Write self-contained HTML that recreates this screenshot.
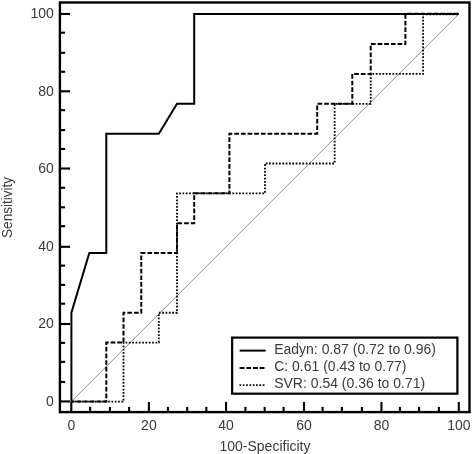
<!DOCTYPE html>
<html><head><meta charset="utf-8"><style>
html,body{margin:0;padding:0;background:#fff;}
body{width:472px;height:454px;overflow:hidden;}
svg{display:block;will-change:transform;}
text{font-family:"Liberation Sans", sans-serif;}
</style></head><body>
<svg width="472" height="454" viewBox="0 0 472 454">
<rect x="0" y="0" width="472" height="454" fill="#fff"/>
<line x1="71.3" y1="401.5" x2="458.8" y2="14.0" stroke="#808080" stroke-width="0.95"/>
<g fill="none" stroke="#000" stroke-linejoin="miter" stroke-linecap="butt">
<path d="M71.40,401.60 L123.50,401.60 L123.50,342.57 L158.80,342.57 L158.80,312.73 L177.00,312.73 L177.00,193.34 L265.00,193.34 L265.00,163.50 L334.65,163.50 L334.65,103.81 L370.70,103.81 L370.70,73.97 L423.10,73.97 L423.10,14.35 L458.80,14.35" stroke-width="1.8" stroke-dasharray="1.75 1.5759" stroke-dashoffset="3.25"/>
<path d="M71.40,401.60 L106.30,401.60 L106.30,342.57 L123.50,342.57 L123.50,312.73 L141.25,312.73 L141.25,253.03 L177.00,253.03 L177.00,223.19 L194.20,223.19 L194.20,193.34 L229.40,193.34 L229.40,133.65 L317.20,133.65 L317.20,103.81 L352.30,103.81 L352.30,73.97 L370.70,73.97 L370.70,44.12 L405.40,44.12 L405.40,13.75 L458.80,13.75" stroke-width="2" stroke-dasharray="4.7 1.9519" stroke-dashoffset="1.544"/>
<path d="M71.40,401.60 L71.40,312.73 L89.30,253.03 L106.30,253.03 L106.30,133.65 L158.80,133.65 L177.00,103.81 L194.20,103.81 L194.20,14.10 L458.80,14.10" stroke-width="2"/>
</g>
<g stroke="#000" stroke-width="2.1">
<line x1="59.90" y1="401.45" x2="70.10" y2="401.45"/><line x1="71.30" y1="412.10" x2="71.30" y2="401.90"/><line x1="59.90" y1="382.00" x2="65.10" y2="382.00"/><line x1="90.10" y1="412.10" x2="90.10" y2="406.90"/><line x1="59.90" y1="361.90" x2="65.10" y2="361.90"/><line x1="109.95" y1="412.10" x2="109.95" y2="406.90"/><line x1="59.90" y1="342.90" x2="65.10" y2="342.90"/><line x1="129.10" y1="412.10" x2="129.10" y2="406.90"/><line x1="59.90" y1="324.00" x2="70.10" y2="324.00"/><line x1="148.90" y1="412.10" x2="148.90" y2="401.90"/><line x1="59.90" y1="303.70" x2="65.10" y2="303.70"/><line x1="167.90" y1="412.10" x2="167.90" y2="406.90"/><line x1="59.90" y1="284.90" x2="65.10" y2="284.90"/><line x1="187.20" y1="412.10" x2="187.20" y2="406.90"/><line x1="59.90" y1="265.60" x2="65.10" y2="265.60"/><line x1="206.35" y1="412.10" x2="206.35" y2="406.90"/><line x1="59.90" y1="246.80" x2="70.10" y2="246.80"/><line x1="226.05" y1="412.10" x2="226.05" y2="401.90"/><line x1="59.90" y1="226.20" x2="65.10" y2="226.20"/><line x1="245.40" y1="412.10" x2="245.40" y2="406.90"/><line x1="59.90" y1="207.30" x2="65.10" y2="207.30"/><line x1="264.65" y1="412.10" x2="264.65" y2="406.90"/><line x1="59.90" y1="187.75" x2="65.10" y2="187.75"/><line x1="283.60" y1="412.10" x2="283.60" y2="406.90"/><line x1="59.90" y1="168.50" x2="70.10" y2="168.50"/><line x1="304.00" y1="412.10" x2="304.00" y2="401.90"/><line x1="59.90" y1="149.00" x2="65.10" y2="149.00"/><line x1="322.60" y1="412.10" x2="322.60" y2="406.90"/><line x1="59.90" y1="130.10" x2="65.10" y2="130.10"/><line x1="341.90" y1="412.10" x2="341.90" y2="406.90"/><line x1="59.90" y1="110.15" x2="65.10" y2="110.15"/><line x1="361.90" y1="412.10" x2="361.90" y2="406.90"/><line x1="59.90" y1="91.30" x2="70.10" y2="91.30"/><line x1="381.45" y1="412.10" x2="381.45" y2="401.90"/><line x1="59.90" y1="71.80" x2="65.10" y2="71.80"/><line x1="399.90" y1="412.10" x2="399.90" y2="406.90"/><line x1="59.90" y1="52.80" x2="65.10" y2="52.80"/><line x1="419.05" y1="412.10" x2="419.05" y2="406.90"/><line x1="59.90" y1="32.70" x2="65.10" y2="32.70"/><line x1="438.90" y1="412.10" x2="438.90" y2="406.90"/><line x1="59.90" y1="14.00" x2="70.10" y2="14.00"/><line x1="458.80" y1="412.10" x2="458.80" y2="401.90"/>
</g>
<rect x="59.9" y="2.5" width="409.60" height="409.60" fill="none" stroke="#000" stroke-width="2.4"/>
<g font-size="14" fill="#3a3a3a">
<text transform="translate(53.90 405.65) scale(1 1.05)" text-anchor="end">0</text><text transform="translate(71.30 429.60) scale(1 1.05)" text-anchor="middle">0</text><text transform="translate(53.90 328.20) scale(1 1.05)" text-anchor="end">20</text><text transform="translate(148.90 429.60) scale(1 1.05)" text-anchor="middle">20</text><text transform="translate(53.90 251.00) scale(1 1.05)" text-anchor="end">40</text><text transform="translate(226.05 429.60) scale(1 1.05)" text-anchor="middle">40</text><text transform="translate(53.90 172.70) scale(1 1.05)" text-anchor="end">60</text><text transform="translate(304.00 429.60) scale(1 1.05)" text-anchor="middle">60</text><text transform="translate(53.90 95.50) scale(1 1.05)" text-anchor="end">80</text><text transform="translate(381.45 429.60) scale(1 1.05)" text-anchor="middle">80</text><text transform="translate(53.90 18.20) scale(1 1.05)" text-anchor="end">100</text><text transform="translate(458.80 429.60) scale(1 1.05)" text-anchor="middle">100</text>
<text transform="translate(265.00 450.70) scale(1 1.05)" text-anchor="middle">100-Specificity</text>
<text transform="translate(11.70 207.40) rotate(-90) scale(0.97 1.05)" text-anchor="middle">Sensitivity</text>
</g>
<rect x="232.15" y="337.6" width="225.25" height="56.1" fill="#fff" stroke="#000" stroke-width="2.2"/>
<g stroke="#000" fill="none">
<line x1="239.6" y1="350.6" x2="265.6" y2="350.6" stroke-width="2"/>
<line x1="239.6" y1="368" x2="265.6" y2="368" stroke-width="2" stroke-dasharray="4.9 1.76"/>
<line x1="239.45" y1="385.2" x2="265.6" y2="385.2" stroke-width="1.8" stroke-dasharray="1.7 1.635"/>
</g>
<g font-size="14" fill="#3a3a3a">
<text transform="translate(274.20 353.80) scale(1 1.05)">Eadyn: 0.87 (0.72 to 0.96)</text>
<text transform="translate(274.20 371.20) scale(1 1.05)">C: 0.61 (0.43 to 0.77)</text>
<text transform="translate(274.20 388.20) scale(1 1.05)">SVR: 0.54 (0.36 to 0.71)</text>
</g>
</svg>
</body></html>
